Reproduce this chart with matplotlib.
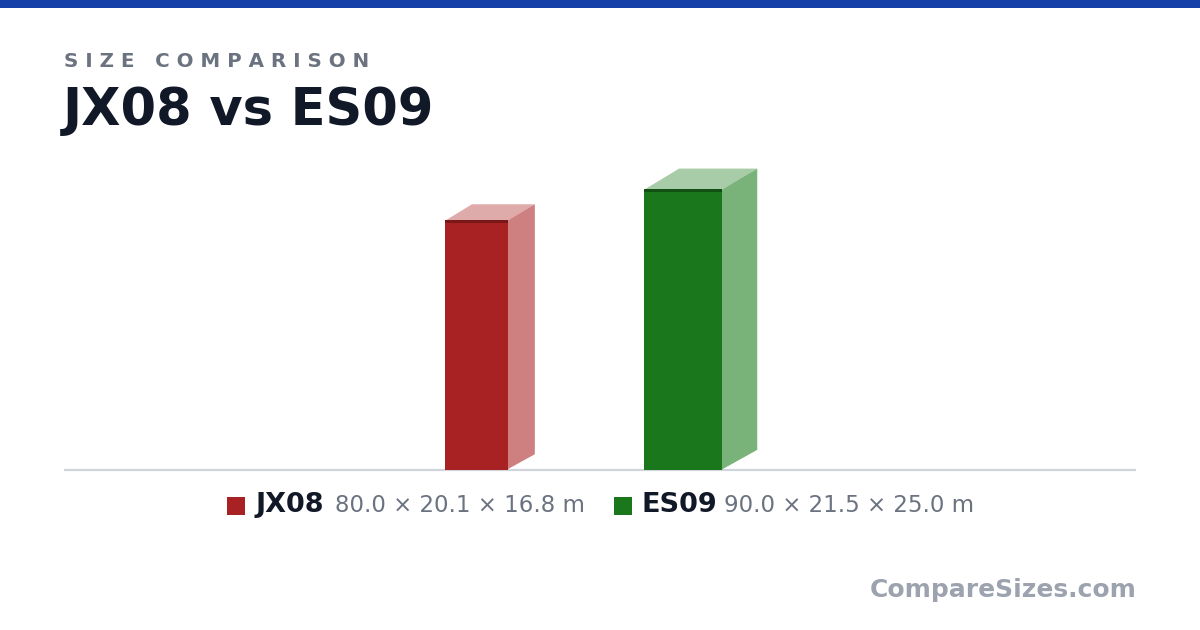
import matplotlib
matplotlib.use("Agg")
import matplotlib.pyplot as plt
from matplotlib.patches import Rectangle, Polygon

# ship data (length x width x height, metres)
names = ["JX08", "ES09"]
lengths = [80.0, 90.0]
widths = [20.1, 21.5]
heights = [16.8, 25.0]
colors = ["#A82224", "#1B771B"]
side_colors = ["#CE7F7F", "#7AB37A"]
top_colors = ["#DFAAAA", "#A8CBA8"]
edge_colors = ["#7A1819", "#124F12"]

W, H = 1200, 630
px_per_m = 3.125
base_px = 470  # baseline from top
gap = 35.0
k = 0.6  # depth foreshortening

fig = plt.figure(figsize=(12, 6.3), dpi=100)
fig.patch.set_facecolor("white")
ax = fig.add_axes([0, 0, 1, 1])
ax.set_xlim(-(W / 2 + 1) / px_per_m, (W / 2 - 1) / px_per_m)
ax.set_ylim(-(H - base_px) / px_per_m, base_px / px_per_m)
ax.axis("off")

# front face = larger of width/height, depth = smaller one
fronts = [max(w, h) for w, h in zip(widths, heights)]
depths = [min(w, h) for w, h in zip(widths, heights)]
dxs = [d * k * 0.866 for d in depths]
dys = [d * k * 0.5 for d in depths]
total = sum(f + dx for f, dx in zip(fronts, dxs)) + gap * (len(names) - 1)

x = -total / 2
for i in range(len(names)):
    L, f, dx, dy = lengths[i], fronts[i], dxs[i], dys[i]
    ax.add_patch(Polygon([(x + f - 0.4, 0), (x + f + dx, dy), (x + f + dx, L + dy), (x + f - 0.4, L)],
                         closed=True, facecolor=side_colors[i], edgecolor="none"))
    ax.add_patch(Polygon([(x, L - 0.3), (x + f, L - 0.3), (x + f + dx, L + dy), (x + dx, L + dy)],
                         closed=True, facecolor=top_colors[i], edgecolor="none"))
    ax.add_patch(Rectangle((x, 0), f, L, facecolor=colors[i], edgecolor="none"))
    ax.add_patch(Rectangle((x, L - 1.0), f, 1.0, facecolor=edge_colors[i], edgecolor="none"))
    x += f + dx + gap

# baseline
ax.plot([(64 - W / 2 - 1) / px_per_m, (1136 - W / 2 - 1) / px_per_m], [0, 0],
        color="#D1D5DB", lw=1.6, solid_capstyle="butt", zorder=0)

# top accent bar
fig.patches.append(Rectangle((0, 1 - 8 / H), 1, 8 / H, transform=fig.transFigure,
                             facecolor="#1440A8", edgecolor="none"))

def fx(px):
    return px / W

def fy(px):
    return 1 - px / H

fig.text(fx(64), fy(67), "S I Z E   C O M P A R I S O N", fontsize=14.3,
         fontweight="bold", color="#6B7280", va="baseline")
fig.text(fx(63), fy(125.5), "JX08 vs ES09", fontsize=36.7, fontweight="bold",
         color="#111827", va="baseline")

# legend
sq_x = [227, 614]
name_x = [255, 642]
dim_x = [335, 724]
for i in range(len(names)):
    fig.patches.append(Rectangle((fx(sq_x[i]), fy(515)), 18 / W, 18 / H,
                                 transform=fig.transFigure, facecolor=colors[i],
                                 edgecolor="none"))
    fig.text(fx(name_x[i]), fy(512), names[i], fontsize=19.5, fontweight="bold",
             color="#111827", va="baseline")
    dims = f"{lengths[i]:.1f} \u00d7 {widths[i]:.1f} \u00d7 {heights[i]:.1f} m"
    fig.text(fx(dim_x[i]), fy(512), dims, fontsize=16.5, color="#6B7280",
             va="baseline")

fig.text(fx(1137), fy(597), "CompareSizes.com", fontsize=18, fontweight="bold",
         color="#9CA3AF", ha="right", va="baseline")

fig.savefig("out.png", dpi=100, facecolor="white")
